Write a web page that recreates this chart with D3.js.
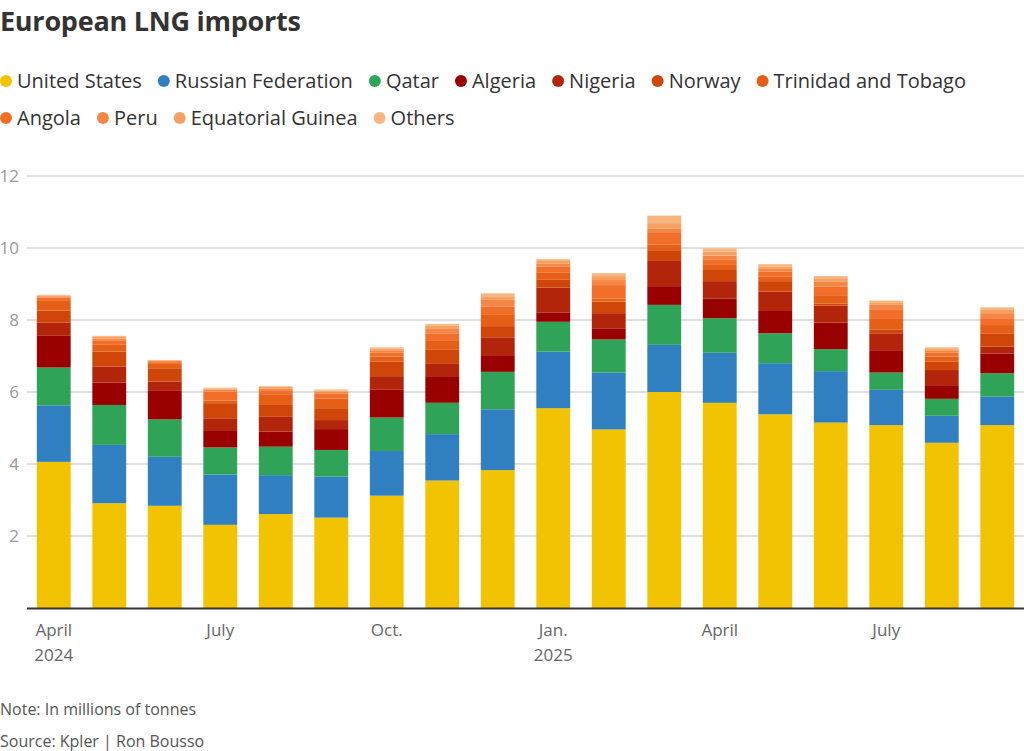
<!DOCTYPE html>
<html>
<head>
<meta charset="utf-8">
<script src="https://cdn.jsdelivr.net/npm/d3@7"></script>
<style>
  html, body { margin: 0; padding: 0; background: #fff; }
  svg { display: block; font-family: "Open Sans", "Noto Sans", sans-serif; }
</style>
</head>
<body>
<svg id="chart" width="1024" height="751"></svg>
<script>
// ---- Data (millions of tonnes) ----
const months = ["2024-04","2024-05","2024-06","2024-07","2024-08","2024-09","2024-10","2024-11","2024-12",
                "2025-01","2025-02","2025-03","2025-04","2025-05","2025-06","2025-07","2025-08","2025-09"];
const seriesNames = ["United States","Russian Federation","Qatar","Algeria","Nigeria","Norway",
                     "Trinidad and Tobago","Angola","Peru","Equatorial Guinea","Others"];
const unitedStates = [4.06,2.91,2.84,2.31,2.61,2.51,3.12,3.54,3.83,5.55,4.96,6.00,5.70,5.38,5.15,5.08,4.59,5.08];
const russia       = [1.57,1.62,1.36,1.40,1.08,1.14,1.24,1.29,1.69,1.57,1.58,1.31,1.39,1.42,1.43,0.98,0.75,0.79];
const qatar        = [1.05,1.11,1.04,0.75,0.79,0.74,0.93,0.87,1.04,0.83,0.92,1.11,0.96,0.83,0.61,0.48,0.47,0.65];
const algeria      = [0.88,0.62,0.79,0.48,0.42,0.58,0.77,0.74,0.44,0.25,0.31,0.52,0.55,0.62,0.74,0.60,0.38,0.55];
const nigeria      = [0.37,0.45,0.26,0.33,0.41,0.25,0.38,0.34,0.52,0.70,0.42,0.70,0.48,0.54,0.47,0.49,0.42,0.19];
const norway       = [0.33,0.41,0.37,0.42,0.33,0.33,0.40,0.39,0.31,0.23,0.32,0.30,0.31,0.29,0.06,0.11,0.23,0.37];
const trinidad     = [0.29,0.19,0.12,0.07,0.30,0.27,0.14,0.27,0.31,0.18,0.09,0.16,0.14,0.12,0.23,0.31,0.14,0.23];
const angola       = [0.07,0.11,0.05,0.25,0.11,0.14,0.11,0.19,0.23,0.17,0.37,0.34,0.14,0.14,0.24,0.23,0.11,0.19];
const peru         = [0.04,0.06,0.03,0.06,0.05,0.05,0.07,0.14,0.19,0.09,0.14,0.10,0.12,0.08,0.13,0.14,0.05,0.14];
const eqGuinea     = [0.02,0.05,0.02,0.03,0.04,0.03,0.05,0.07,0.10,0.07,0.11,0.15,0.11,0.07,0.10,0.07,0.05,0.09];
const others       = [0.02,0.03,0.01,0.02,0.02,0.03,0.03,0.05,0.08,0.05,0.08,0.21,0.09,0.06,0.06,0.05,0.05,0.07];
const yTicks = [2,4,6,8,10,12];
const xTickLabels = [
  {month:"2024-04", line1:"April", line2:"2024"},
  {month:"2024-07", line1:"July",  line2:""},
  {month:"2024-10", line1:"Oct.",  line2:""},
  {month:"2025-01", line1:"Jan.",  line2:"2025"},
  {month:"2025-04", line1:"April", line2:""},
  {month:"2025-07", line1:"July",  line2:""}
];
const colors = ["#f2c300","#2f7fc1","#2fa458","#990000","#b3250b","#cf4608","#e65f16",
                "#f26f2a","#f58645","#f7a062","#f8b67e"];

// ---- Build table ----
const seriesValues = [unitedStates,russia,qatar,algeria,nigeria,norway,trinidad,angola,peru,eqGuinea,others];
const table = months.map((m,i) => {
  const row = {month:m};
  seriesNames.forEach((s,j) => row[s] = seriesValues[j][i]);
  return row;
});
const stacked = d3.stack().keys(seriesNames)(table);

const svg = d3.select("#chart");
const W = 1024;

// Title
svg.append("text").attr("x",0).attr("y",31)
  .attr("font-size",27).attr("font-weight",700).attr("fill","#333")
  .attr("letter-spacing","-0.25")
  .text("European LNG imports");

// Legend (flow layout)
const color = d3.scaleOrdinal().domain(seriesNames).range(colors);
const legend = svg.append("g");
let lx = 0, ly = 81;
seriesNames.forEach(name => {
  const g = legend.append("g");
  g.append("circle").attr("r",6).attr("fill",color(name));
  const t = g.append("text").attr("x",11).attr("dy","0.35em")
    .attr("font-size",20).attr("fill","#333").text(name);
  const w = 11 + t.node().getComputedTextLength();
  if (lx + w > W - 20) { lx = 0; ly += 37; }
  g.attr("transform",`translate(${lx+6},${ly})`);
  lx += w + 22;
});

// Scales
const y = d3.scaleLinear().domain([0,12]).range([608,176]);
const x = d3.scaleBand().domain(months).range([26,1025]).paddingInner(0.39).paddingOuter(0.195);

// Grid + y labels
const yAxis = d3.axisLeft(y).tickValues(yTicks).tickSize(0).tickPadding(0);
const yg = svg.append("g").attr("transform","translate(19,0)").call(yAxis);
yg.select(".domain").remove();
yg.selectAll("text").attr("font-size",17).attr("fill","#9a9a9a")
  .attr("font-family","'Open Sans', sans-serif").attr("text-anchor","end");
svg.append("g").selectAll("line").data(yTicks).join("line")
  .attr("x1",27).attr("x2",1024).attr("y1",d=>y(d)).attr("y2",d=>y(d))
  .attr("stroke","#c0c0c0").attr("stroke-width",1.2);

// Bars
svg.append("g").selectAll("g").data(stacked).join("g")
  .attr("fill",d=>color(d.key))
  .selectAll("rect").data(d=>d).join("rect")
  .attr("x",d=>x(d.data.month))
  .attr("width",x.bandwidth())
  .attr("y",d=>y(d[1]))
  .attr("height",d=>Math.max(0,y(d[0])-y(d[1])));

// Baseline
svg.append("line").attr("x1",27).attr("x2",1024).attr("y1",y(0)+0.5).attr("y2",y(0)+0.5)
  .attr("stroke","#333").attr("stroke-width",2);

// X labels
const xl = svg.append("g");
xTickLabels.forEach(d => {
  const cx = x(d.month) + x.bandwidth()/2;
  xl.append("text").attr("x",cx).attr("y",636).attr("text-anchor","middle")
    .attr("font-size",17).attr("fill","#666").text(d.line1);
  if (d.line2) xl.append("text").attr("x",cx).attr("y",661).attr("text-anchor","middle")
    .attr("font-size",17).attr("fill","#666").text(d.line2);
});

// Notes
svg.append("text").attr("x",0).attr("y",715).attr("font-size",16).attr("fill","#555")
  .text("Note: In millions of tonnes");
svg.append("text").attr("x",0).attr("y",747).attr("font-size",16).attr("fill","#555")
  .text("Source: Kpler | Ron Bousso");
</script>
</body>
</html>
